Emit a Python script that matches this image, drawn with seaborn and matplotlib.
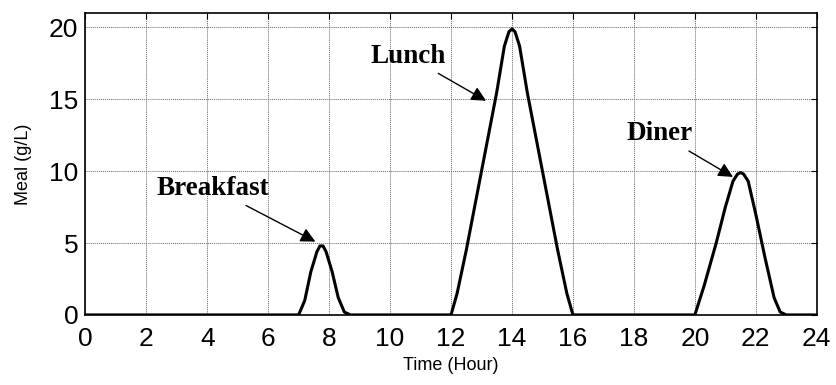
import numpy as np
import pandas as pd
import seaborn as sns
from matplotlib import pyplot as plt

# Datos (hora, g/L)
tiempo = [0.0, 7.0, 7.2, 7.4, 7.6, 7.7, 7.8, 7.9, 8.1, 8.3, 8.5, 8.7,
          12.0, 12.2, 12.5, 13.0, 13.5, 13.75, 13.9, 14.0, 14.1, 14.25, 14.5, 15.0, 15.5, 15.8, 16.0,
          20.0, 20.3, 20.7, 21.0, 21.25, 21.4, 21.5, 21.6, 21.75, 22.0, 22.3, 22.6, 22.8, 23.0, 24.0]
comida = [0.0, 0.0, 1.0, 3.0, 4.4, 4.8, 4.8, 4.4, 3.0, 1.2, 0.2, 0.0,
          0.0, 1.5, 4.5, 10.0, 15.5, 18.7, 19.7, 19.9, 19.7, 18.7, 15.5, 10.0, 4.5, 1.5, 0.0,
          0.0, 2.0, 5.0, 7.5, 9.3, 9.8, 9.9, 9.8, 9.3, 7.0, 4.0, 1.2, 0.2, 0.0, 0.0]

etiquetas = ["Breakfast", "Lunch", "Diner"]
texto_pos = [(4.2, 8.8), (10.6, 18.0), (18.85, 12.6)]
flecha_pos = [(7.55, 5.1), (13.15, 14.9), (21.25, 9.6)]

x_ticks = list(range(0, 25, 2))
y_ticks = [0, 5, 10, 15, 20]

df = pd.DataFrame({"Time (Hour)": tiempo, "Meal (g/L)": comida})

sns.set_style("whitegrid")
plt.rcParams['font.family'] = ['Liberation Sans', 'DejaVu Sans']
plt.rcParams['text.color'] = 'black'
plt.rcParams['axes.labelcolor'] = 'black'

fig, ax = plt.subplots(figsize=(8.36, 3.85), dpi=100)
sns.lineplot(data=df, x="Time (Hour)", y="Meal (g/L)", ax=ax, color="black", linewidth=2.2)

ax.set_xlim(0, 24)
ax.set_ylim(0, 21)
ax.set_xticks(x_ticks)
ax.set_yticks(y_ticks)
ax.tick_params(axis='both', labelsize=19, direction='in', length=4, width=0.8,
               top=True, right=True, colors='black')
ax.tick_params(axis='x', pad=9)
ax.tick_params(axis='y', pad=5)
ax.grid(True, color='#666666', linestyle=(0, (1, 1)), linewidth=0.7)
for s in ax.spines.values():
    s.set_color('black')
    s.set_linewidth(1.2)
ax.set_xlabel("Time (Hour)", fontsize=13, labelpad=4, color='black')
ax.set_ylabel("Meal (g/L)", fontsize=13, labelpad=12, color='black')

for lab, tp, fp in zip(etiquetas, texto_pos, flecha_pos):
    ax.annotate(lab, xy=fp, xytext=tp, ha='center', va='center', color='black',
                fontsize=19.5, fontweight='bold', family=['Liberation Serif', 'DejaVu Serif'],
                arrowprops=dict(arrowstyle='-|>', color='black', lw=1.0, mutation_scale=22,
                                shrinkA=2, shrinkB=0))

fig.subplots_adjust(left=0.102, right=0.977, top=0.966, bottom=0.182)
fig.savefig("out.png", dpi=100)
